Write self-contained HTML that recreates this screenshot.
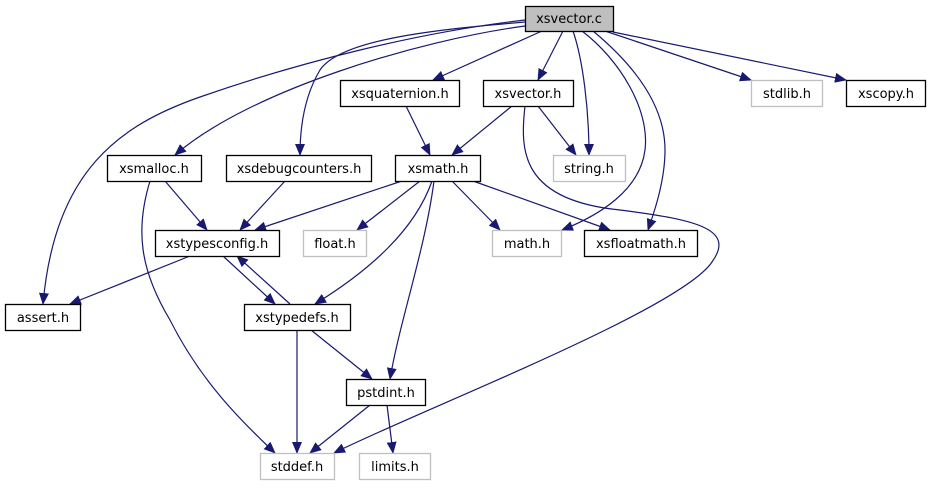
<!DOCTYPE html>
<html><head><meta charset="utf-8"><style>
body{margin:0;background:#fff}
svg text{font-family:"DejaVu Sans","Liberation Sans",sans-serif;font-size:13px;text-anchor:middle}
</style></head><body>
<svg width="930" height="485" viewBox="0 0 930 485" xmlns="http://www.w3.org/2000/svg">
<defs><marker id="a" markerUnits="userSpaceOnUse" markerWidth="12" markerHeight="10" refX="11" refY="5" orient="auto"><path d="M0,0L12,5L0,10z" fill="#191970"/></marker></defs>
<g fill="none" stroke="#191970" stroke-width="1.2" marker-end="url(#a)">
<path d="M542,31L433,80"/>
<path d="M563,31L538,80"/>
<path d="M573,31C583,60 589,110 589,155"/>
<path d="M582,31C620,60 650,110 645,150C640,190 600,215 562,230"/>
<path d="M593,31C640,70 665,110 665,150C665,180 655,210 648,230"/>
<path d="M605,31L751,80"/>
<path d="M613,32L846,80"/>
<path d="M525,26C420,40 250,90 175,155"/>
<path d="M525,22C430,30 340,40 320,70C305,95 300,125 300,155"/>
<path d="M525,20C420,32 300,62 200,97C120,125 55,170 43,304"/>
<path d="M406,106L430,155"/>
<path d="M512,106L452,155"/>
<path d="M538,106L576,155"/>
<path d="M525,106C520,150 520,200 620,210C700,220 735,230 712,262C680,310 420,410 334,453"/>
<path d="M165,181L207,230"/>
<path d="M150,181C135,230 140,270 170,320C200,380 240,420 275,453"/>
<path d="M285,181L240,230"/>
<path d="M402,181L255,230"/>
<path d="M420,181L357,230"/>
<path d="M432,181C415,230 370,270 315,304"/>
<path d="M434,181C425,250 400,320 390,379"/>
<path d="M452,181L500,230"/>
<path d="M473,181L610,230"/>
<path d="M190,256L70,304"/>
<path d="M223,256L275,304"/>
<path d="M290,304L237,256"/>
<path d="M297,330L297,453"/>
<path d="M311,330L372,379"/>
<path d="M370,405L310,453"/>
<path d="M387,405L393,453"/>
</g>
<g stroke-width="1.3">
<rect x="525.5" y="6.5" width="88" height="25" fill="#bfbfbf" stroke="#000"/>
<rect x="340.5" y="80.5" width="119" height="26" fill="#fff" stroke="#000"/>
<rect x="483.5" y="80.5" width="90" height="26" fill="#fff" stroke="#000"/>
<rect x="751.5" y="80.5" width="71" height="26" fill="#fff" stroke="#bfbfbf"/>
<rect x="846.5" y="80.5" width="79" height="26" fill="#fff" stroke="#000"/>
<rect x="107.5" y="155.5" width="94" height="26" fill="#fff" stroke="#000"/>
<rect x="226.5" y="155.5" width="145" height="26" fill="#fff" stroke="#000"/>
<rect x="395.5" y="155.5" width="85" height="26" fill="#fff" stroke="#000"/>
<rect x="553.5" y="155.5" width="72" height="26" fill="#fff" stroke="#bfbfbf"/>
<rect x="155.5" y="230.5" width="124" height="26" fill="#fff" stroke="#000"/>
<rect x="303.5" y="230.5" width="63" height="26" fill="#fff" stroke="#bfbfbf"/>
<rect x="492.5" y="230.5" width="69" height="26" fill="#fff" stroke="#bfbfbf"/>
<rect x="584.5" y="230.5" width="113" height="26" fill="#fff" stroke="#000"/>
<rect x="5.5" y="304.5" width="75" height="26" fill="#fff" stroke="#000"/>
<rect x="244.5" y="304.5" width="106" height="26" fill="#fff" stroke="#000"/>
<rect x="346.5" y="379.5" width="79" height="26" fill="#fff" stroke="#000"/>
<rect x="260.5" y="453.5" width="74" height="26" fill="#fff" stroke="#bfbfbf"/>
<rect x="359.5" y="453.5" width="71" height="26" fill="#fff" stroke="#bfbfbf"/>
</g>
<g fill="#000">
<text x="569" y="23">xsvector.c</text>
<text x="400" y="98">xsquaternion.h</text>
<text x="528" y="98">xsvector.h</text>
<text x="787" y="98">stdlib.h</text>
<text x="886" y="98">xscopy.h</text>
<text x="154" y="173">xsmalloc.h</text>
<text x="299" y="173">xsdebugcounters.h</text>
<text x="438" y="173">xsmath.h</text>
<text x="589" y="173">string.h</text>
<text x="217" y="248">xstypesconfig.h</text>
<text x="335" y="248">float.h</text>
<text x="527" y="248">math.h</text>
<text x="641" y="248">xsfloatmath.h</text>
<text x="43" y="322">assert.h</text>
<text x="297" y="322">xstypedefs.h</text>
<text x="386" y="397">pstdint.h</text>
<text x="297" y="471">stddef.h</text>
<text x="395" y="471">limits.h</text>
</g>
</svg>
</body></html>
